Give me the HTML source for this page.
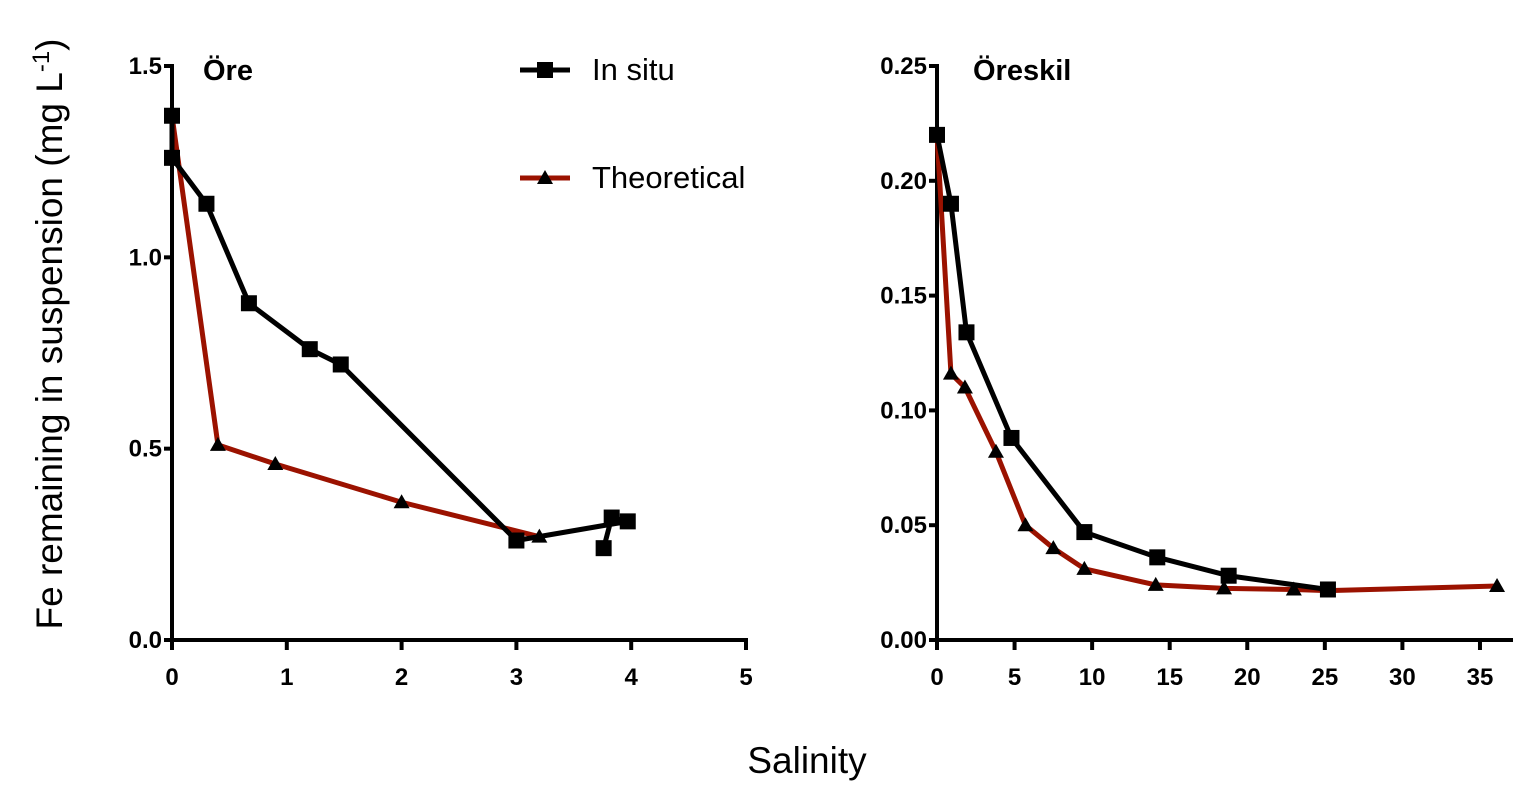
<!DOCTYPE html>
<html><head><meta charset="utf-8"><style>
body{margin:0;background:#fff}
svg{display:block}
text{font-family:"Liberation Sans",Arial,sans-serif}
.t{font-size:24px;font-weight:bold}
</style></head><body>
<svg id="c" width="1532" height="798" xmlns="http://www.w3.org/2000/svg"></svg>
<script>
const leftInSituX=[0,0,0.3,0.67,1.2,1.47,3.0,3.97,3.83,3.76];
const leftInSituY=[1.37,1.26,1.14,0.88,0.76,0.72,0.26,0.31,0.32,0.24];
const leftTheoX=[0,0.4,0.9,2.0,3.2];
const leftTheoY=[1.37,0.51,0.46,0.36,0.27];
const rightInSituX=[0,0.9,1.9,4.8,9.5,14.2,18.8,25.2];
const rightInSituY=[0.22,0.19,0.134,0.088,0.047,0.036,0.028,0.022];
const rightTheoX=[0,0.9,1.8,3.8,5.7,7.5,9.5,14.1,18.5,23,25.2,36.1];
const rightTheoY=[0.22,0.116,0.11,0.082,0.05,0.04,0.031,0.024,0.0225,0.022,0.0215,0.0235];
const leftXTicks=[0,1,2,3,4,5];
const leftYTicks=["0.0","0.5","1.0","1.5"];
const rightXTicks=[0,5,10,15,20,25,30,35];
const rightYTicks=["0.00","0.05","0.10","0.15","0.20","0.25"];

const svg=document.getElementById('c');
const NS='http://www.w3.org/2000/svg';
function el(tag,attrs,parent){const e=document.createElementNS(NS,tag);for(const k in attrs)e.setAttribute(k,attrs[k]);(parent||svg).appendChild(e);return e;}
function txt(x,y,s,cls,anchor,parent){const t=el('text',{x:x,y:y,'text-anchor':anchor||'middle'},parent);if(cls)t.setAttribute('class',cls);t.textContent=s;return t;}

function panel(name,x0,x1,xmax,y0,y1,ymax,xt,yt,ax,ay,bx,by,title,tx){
  const g=el('g',{});
  
  
  const sx=v=>x0+(x1-x0)*v/xmax, sy=v=>y0-(y0-y1)*v/ymax;
  const axes=el('path',{d:`M${x0} ${y1-2}V${y0}H${x1+2}`,stroke:'#000','stroke-width':4,fill:'none'},g);
  
  
  yt.forEach(s=>{const y=sy(parseFloat(s));
    el('line',{x1:x0-8,x2:x0,y1:y,y2:y,stroke:'#000','stroke-width':4},g);
    const t=txt(x0-10,y+8,s,'t','end',g);
    
    });
  xt.forEach(v=>{const x=sx(v);
    el('line',{x1:x,x2:x,y1:y0,y2:y0+10,stroke:'#000','stroke-width':4},g);
    const t=txt(x,y0+45,String(v),'t','middle',g);
    
    });
  const series=(X,Y,col,mk,nm)=>{
    const p=el('polyline',{points:X.map((v,i)=>sx(v)+','+sy(Y[i])).join(' '),stroke:col,'stroke-width':5,fill:'none','stroke-linejoin':'round'},g);
    
    
    X.forEach((v,i)=>{const x=sx(v),y=sy(Y[i]);let m;
      if(mk==='sq')m=el('rect',{x:x-8,y:y-8,width:16,height:16,fill:'#000'},g);
      else m=el('polygon',{points:`${x},${y-8} ${x-8},${y+6} ${x+8},${y+6}`,fill:'#000'},g);
      
      });
  };
  series(bx,by,'#9b1200','tri','theoretical');
  series(ax,ay,'#000','sq','in-situ');
  const tt=txt(tx,y1+14,title,'t','start',g);
  
  
  tt.setAttribute('style','font-size:29px');
}
panel('panel-ore',172,746,5,640,66,1.5,leftXTicks,leftYTicks,leftInSituX,leftInSituY,leftTheoX,leftTheoY,'Öre',203);
panel('panel-oreskil',937,1511,37,640,66,0.25,rightXTicks,rightYTicks,rightInSituX,rightInSituY,rightTheoX,rightTheoY,'Öreskil',973);

const lg=el('g',{});


el('line',{x1:520,x2:570,y1:70,y2:70,stroke:'#000','stroke-width':5},lg);
el('rect',{x:537,y:62,width:16,height:16,fill:'#000'},lg);
const l1=txt(592,80,'In situ',null,'start',lg);l1.setAttribute('style','font-size:31px');


el('line',{x1:520,x2:570,y1:178,y2:178,stroke:'#9b1200','stroke-width':5},lg);
el('polygon',{points:'545,170 537,184 553,184',fill:'#000'},lg);
const l2=txt(592,188,'Theoretical',null,'start',lg);l2.setAttribute('style','font-size:31px');



const xl=txt(807,773,'Salinity');xl.setAttribute('style','font-size:37px');


const yl=el('text',{x:0,y:0,'text-anchor':'middle',transform:'translate(62,334) rotate(-90)',style:'font-size:37px'});


yl.innerHTML='Fe remaining in suspension (mg L<tspan dy="-13" style="font-size:24px">-1</tspan><tspan dy="13">)</tspan>';
</script>
</body></html>
